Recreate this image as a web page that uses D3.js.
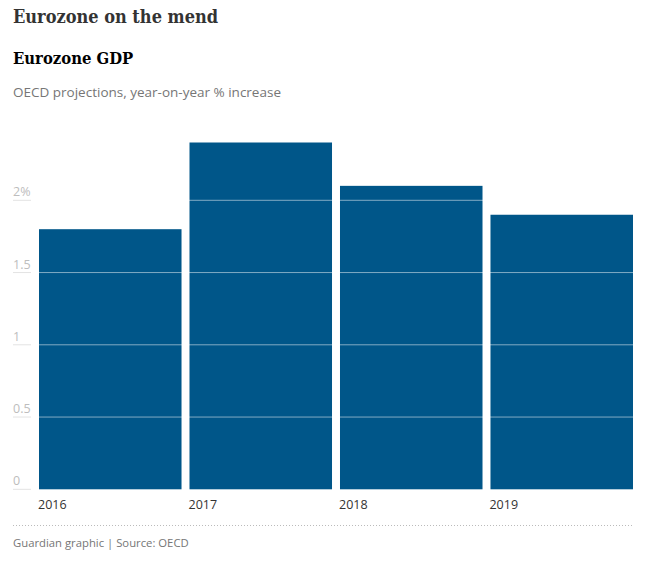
<!DOCTYPE html>
<html>
<head>
<meta charset="utf-8">
<script src="https://cdn.jsdelivr.net/npm/d3@7"></script>
<style>
  body { margin: 0; background: #fff; }
</style>
</head>
<body>
<div id="chart"></div>
<script>
const years = ["2016", "2017", "2018", "2019"];
const gdp = [1.8, 2.4, 2.1, 1.9];
const yTicks = [0, 0.5, 1, 1.5, 2];
const yTickLabels = ["0", "0.5", "1", "1.5", "2%"];

const W = 654, H = 564;
const margin = {left: 39, right: 21};
const plotTop = 200.3, plotBottom = 489.3;

const svg = d3.select("#chart").append("svg")
  .attr("width", W)
  .attr("height", H)
  .style("font-family", "'Open Sans', sans-serif");

const x = d3.scaleBand()
  .domain(years)
  .range([margin.left, W - margin.right])
  .paddingInner(0.053)
  .paddingOuter(0);

const y = d3.scaleLinear()
  .domain([0, 2])
  .range([plotBottom, plotTop]);

// titles
svg.append("text")
  .attr("x", 13).attr("y", 23)
  .style("font-family", "'DejaVu Serif Condensed', 'DejaVu Serif', serif")
  .style("font-stretch", "condensed")
  .style("font-weight", "bold")
  .style("font-size", "18px")
  .attr("fill", "#333")
  .text("Eurozone on the mend");

svg.append("text")
  .attr("x", 13).attr("y", 64)
  .style("font-family", "'DejaVu Serif Condensed', 'DejaVu Serif', serif")
  .style("font-stretch", "condensed")
  .style("font-weight", "bold")
  .style("font-size", "16.5px")
  .attr("fill", "#000")
  .text("Eurozone GDP");

svg.append("text")
  .attr("x", 13).attr("y", 97)
  .style("font-size", "13.5px")
  .attr("fill", "#767676")
  .text("OECD projections, year-on-year % increase");

// y tick labels + little underline
const yt = svg.append("g").selectAll("g")
  .data(yTicks)
  .enter().append("g")
  .attr("transform", function(d) {return "translate(13," + y(d) + ")"});

yt.append("line")
  .attr("x1", 0).attr("x2", 18)
  .attr("stroke", "#e3e3e3");

yt.append("text")
  .attr("y", -4)
  .style("font-size", "12.5px")
  .attr("fill", "#bdbdbd")
  .text(function(d, i) {return yTickLabels[i]});

// bars
svg.append("g").selectAll("rect")
  .data(gdp)
  .enter().append("rect")
  .attr("x", function(d, i) {return x(years[i])})
  .attr("y", function(d) {return y(d)})
  .attr("width", x.bandwidth())
  .attr("height", function(d) {return y(0) - y(d)})
  .attr("fill", "#005689");

// gridlines over bars
svg.append("g").selectAll("line")
  .data(yTicks.filter(function(d) {return d > 0}))
  .enter().append("line")
  .attr("x1", margin.left).attr("x2", W - margin.right)
  .attr("y1", function(d) {return y(d)})
  .attr("y2", function(d) {return y(d)})
  .attr("stroke", "#fff")
  .attr("stroke-opacity", 0.5);

// x labels
svg.append("g").selectAll("text")
  .data(years)
  .enter().append("text")
  .attr("x", function(d) {return x(d) - 1})
  .attr("y", 509)
  .style("font-size", "12.5px")
  .attr("fill", "#333")
  .text(function(d) {return d});

// footer
svg.append("line")
  .attr("x1", 13).attr("x2", W - margin.right)
  .attr("y1", 525.5).attr("y2", 525.5)
  .attr("stroke", "#bbb")
  .attr("stroke-dasharray", "1,2");

svg.append("text")
  .attr("x", 13).attr("y", 547)
  .style("font-size", "11.3px")
  .attr("fill", "#767676")
  .text("Guardian graphic | Source: OECD");
</script>
</body>
</html>
